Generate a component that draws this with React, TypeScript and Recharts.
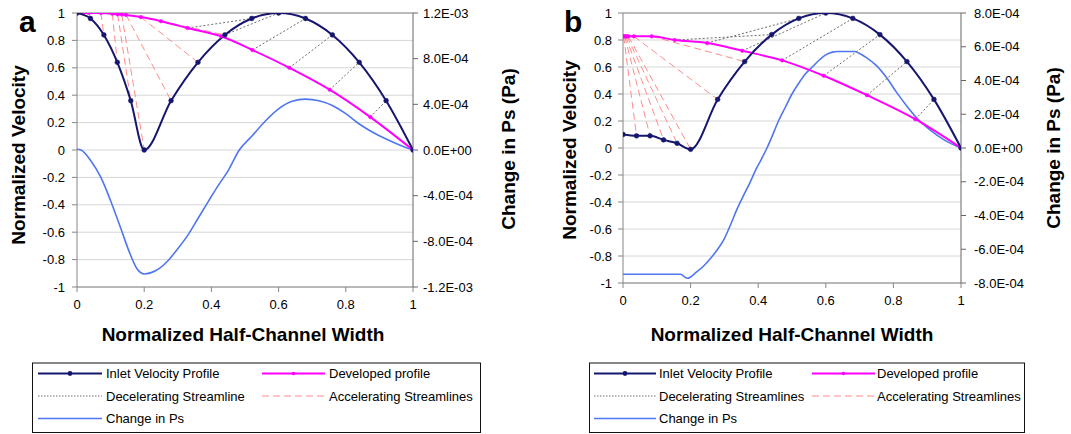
import React from 'react';
import { ComposedChart, Line, XAxis, YAxis, CartesianGrid, ReferenceLine } from 'recharts';

const xTicks = [0, 0.2, 0.4, 0.6, 0.8, 1];
const xTickLabels = ['0', '0.2', '0.4', '0.6', '0.8', '1'];
const vTicks = [-1, -0.8, -0.6, -0.4, -0.2, 0, 0.2, 0.4, 0.6, 0.8, 1];
const vTickLabels = ['-1', '-0.8', '-0.6', '-0.4', '-0.2', '0', '0.2', '0.4', '0.6', '0.8', '1'];

const psTicksA = [-1.2e-3, -8e-4, -4e-4, 0, 4e-4, 8e-4, 1.2e-3];
const psLabelsA = ['-1.2E-03', '-8.0E-04', '-4.0E-04', '0.0E+00', '4.0E-04', '8.0E-04', '1.2E-03'];
const psTicksB = [-8e-4, -6e-4, -4e-4, -2e-4, 0, 2e-4, 4e-4, 6e-4, 8e-4];
const psLabelsB = ['-8.0E-04', '-6.0E-04', '-4.0E-04', '-2.0E-04', '0.0E+00', '2.0E-04', '4.0E-04', '6.0E-04', '8.0E-04'];

// inlet sample positions (shared by both panels)
const inletX = [0, 0.04, 0.08, 0.12, 0.16, 0.2, 0.28, 0.36, 0.44, 0.52, 0.6, 0.68, 0.76, 0.84, 0.92, 1];

// Panel a
const inletVelA = [1, 0.96, 0.84, 0.64, 0.36, 0, 0.36, 0.64, 0.84, 0.96, 1, 0.96, 0.84, 0.64, 0.36, 0];
const devXA = [0, 0.035, 0.071, 0.105, 0.121, 0.133, 0.146, 0.19, 0.25, 0.329, 0.429, 0.522, 0.632, 0.752, 0.873, 1];
const devVelA = [1, 1, 1, 0.995, 0.99, 0.99, 0.986, 0.97, 0.94, 0.89, 0.83, 0.73, 0.6, 0.44, 0.24, 0];
const psXA = [0, 0.012, 0.04, 0.071, 0.1, 0.13, 0.155, 0.178, 0.2, 0.235, 0.27, 0.3, 0.333, 0.36, 0.391, 0.42, 0.45, 0.483, 0.52, 0.56, 0.6, 0.64, 0.68, 0.72, 0.76, 0.8, 0.84, 0.88, 0.92, 0.96, 1];
const psA = [6e-6, 0, -9.0e-5, -2.4e-4, -4.44e-4, -6.84e-4, -8.88e-4, -1.038e-3, -1.086e-3, -1.056e-3, -9.72e-4, -8.64e-4, -7.32e-4, -6.0e-4, -4.5e-4, -3.12e-4, -1.8e-4, 0, 1.2e-4, 2.52e-4, 3.6e-4, 4.26e-4, 4.46e-4, 4.32e-4, 3.9e-4, 3.18e-4, 2.28e-4, 1.56e-4, 9.6e-5, 4.4e-5, 0];

// Panel b
const inletVelB = [0.1, 0.09, 0.09, 0.06, 0.035, -0.01, 0.36, 0.64, 0.84, 0.96, 1, 0.96, 0.84, 0.64, 0.36, 0];
const devXB = [0, 0.002, 0.005, 0.008, 0.012, 0.016, 0.032, 0.085, 0.153, 0.249, 0.353, 0.471, 0.594, 0.722, 0.865, 1];
const devVelB = [0.827, 0.827, 0.827, 0.827, 0.827, 0.827, 0.827, 0.827, 0.8, 0.777, 0.72, 0.649, 0.535, 0.391, 0.213, 0];
const psXB = [0, 0.17, 0.19, 0.217, 0.24, 0.26, 0.28, 0.298, 0.318, 0.336, 0.355, 0.375, 0.393, 0.41, 0.426, 0.44, 0.46, 0.48, 0.5, 0.52, 0.54, 0.56, 0.58, 0.6, 0.62, 0.635, 0.685, 0.7, 0.72, 0.75, 0.78, 0.81, 0.84, 0.87, 0.91, 0.95, 1];
const psB = [-7.48e-4, -7.48e-4, -7.72e-4, -7.36e-4, -6.96e-4, -6.52e-4, -6.0e-4, -5.44e-4, -4.56e-4, -3.68e-4, -2.88e-4, -2.08e-4, -1.28e-4, -6.4e-5, 0, 6.4e-5, 1.6e-4, 2.4e-4, 3.2e-4, 3.84e-4, 4.4e-4, 4.8e-4, 5.2e-4, 5.52e-4, 5.68e-4, 5.72e-4, 5.72e-4, 5.6e-4, 5.36e-4, 4.88e-4, 4.16e-4, 3.28e-4, 2.48e-4, 1.76e-4, 1.04e-4, 4.8e-5, 0];

const NAVY = '#16166e';
const MAGENTA = '#ff00ff';
const BLUE = '#5076f0';
const RED = '#ff8c8c';
const GRAY = '#6e6e6e';
const AXIS = '#868686';
const FONT = 'Liberation Sans, Arial, sans-serif';

const pts = (xs: number[], vs: number[]) => xs.map((x, i) => ({ x, v: vs[i] }));
const labelOf = (ticks: number[], labels: string[]) => (val: number) => {
  const i = ticks.findIndex((t) => Math.abs(t - val) < 1e-9);
  return i >= 0 ? labels[i] : '';
};

type PanelProps = {
  left: number; width: number; height: number;
  margin: { top: number; right: number; bottom: number; left: number };
  inletVel: number[]; devX: number[]; devVel: number[];
  psX: number[]; ps: number[]; psTicks: number[]; psLabels: string[];
  leftTickMargin: number; rightTickMargin: number;
};

function Panel(p: PanelProps) {
  const inletData = pts(inletX, p.inletVel);
  const devData = pts(p.devX, p.devVel);
  const psData = p.psX.map((x, i) => ({ x, p: p.ps[i] }));
  const streams = inletX
    .map((x, i) => ({
      i,
      acc: p.inletVel[i] < p.devVel[i],
      data: [{ x: p.devX[i], v: p.devVel[i] }, { x, v: p.inletVel[i] }],
    }))
    .filter((s) => inletX[s.i] !== p.devX[s.i]);
  const tickStyle = { fill: '#000', fontSize: 13, fontFamily: FONT };
  return (
    <div style={{ position: 'absolute', left: p.left, top: 0 }}>
      <ComposedChart width={p.width} height={p.height} margin={p.margin}>
        <CartesianGrid horizontal vertical={false} stroke="#d6d6d6" />
        <XAxis type="number" dataKey="x" domain={[0, 1]} ticks={xTicks} interval={0}
          tickFormatter={labelOf(xTicks, xTickLabels)} height={20} tickSize={5} tickMargin={8}
          stroke={AXIS} tick={tickStyle} allowDataOverflow />
        <YAxis type="number" domain={[-1, 1]} ticks={vTicks} interval={0} width={60}
          tickFormatter={labelOf(vTicks, vTickLabels)} tickSize={5} tickMargin={p.leftTickMargin}
          stroke={AXIS} tick={tickStyle} allowDataOverflow />
        <YAxis yAxisId="right" orientation="right" type="number" domain={[p.psTicks[0], p.psTicks[p.psTicks.length - 1]]}
          ticks={p.psTicks} interval={0} width={60} tickFormatter={labelOf(p.psTicks, p.psLabels)}
          tickSize={5} tickMargin={p.rightTickMargin} stroke="#666" tick={tickStyle} allowDataOverflow />
        <ReferenceLine y={1} stroke="#8a8a8a" />
        <Line yAxisId="right" data={psData} dataKey="p" type="monotone" stroke={BLUE} strokeWidth={1.6}
          dot={false} isAnimationActive={false} />
        {streams.map((s) => (
          <Line key={'s' + s.i} data={s.data} dataKey="v" type="linear"
            stroke={s.acc ? RED : GRAY} strokeWidth={1}
            strokeDasharray={s.acc ? '7 4' : '2 2'} dot={false} isAnimationActive={false} />
        ))}
        <Line data={devData} dataKey="v" type="monotone" stroke={MAGENTA} strokeWidth={2}
          dot={{ r: 1.8, fill: MAGENTA, stroke: MAGENTA, strokeWidth: 0.5 }} isAnimationActive={false} />
        <Line data={inletData} dataKey="v" type="monotone" stroke={NAVY} strokeWidth={2}
          dot={{ r: 2.4, fill: NAVY, stroke: NAVY, strokeWidth: 0.5 }} isAnimationActive={false} />
      </ComposedChart>
    </div>
  );
}

function LegendBox(props: { x0: number; x1: number; l1a: number; l1b: number; t1: number; l2a: number; l2b: number; t2: number; decel: string }) {
  const { x0, x1, l1a, l1b, t1, l2a, l2b, t2, decel } = props;
  const rows = [373.5, 396, 418.5];
  const fs = 13;
  return (
    <g fontFamily={FONT} fontSize={fs} fill="#000">
      <rect x={x0} y={363} width={x1 - x0} height={69.5} fill="#fff" stroke="#111" strokeWidth={1} />
      <line x1={l1a} x2={l1b} y1={rows[0]} y2={rows[0]} stroke={NAVY} strokeWidth={2} />
      <circle cx={(l1a + l1b) / 2} cy={rows[0]} r={2.4} fill={NAVY} />
      <text x={t1} y={rows[0] + 4.5}>Inlet Velocity Profile</text>
      <line x1={l2a} x2={l2b} y1={rows[0]} y2={rows[0]} stroke={MAGENTA} strokeWidth={2} />
      <circle cx={(l2a + l2b) / 2} cy={rows[0]} r={1.8} fill={MAGENTA} />
      <text x={t2} y={rows[0] + 4.5}>Developed profile</text>
      <line x1={l1a} x2={l1b} y1={rows[1]} y2={rows[1]} stroke={GRAY} strokeWidth={1} strokeDasharray="1.5 1.5" />
      <text x={t1} y={rows[1] + 4.5}>{decel}</text>
      <line x1={l2a} x2={l2b} y1={rows[1]} y2={rows[1]} stroke={RED} strokeWidth={1} strokeDasharray="7 4" />
      <text x={t2} y={rows[1] + 4.5}>Accelerating Streamlines</text>
      <line x1={l1a} x2={l1b} y1={rows[2]} y2={rows[2]} stroke={BLUE} strokeWidth={1.6} />
      <text x={t1} y={rows[2] + 4.5}>Change in Ps</text>
    </g>
  );
}

export default function App() {
  return (
    <div style={{ position: 'absolute', left: 0, top: 0, width: 1071, height: 434, background: '#fff', overflow: 'hidden' }}>
      <Panel left={0} width={540} height={320}
        margin={{ top: 13, right: 67, bottom: 13, left: 17 }}
        inletVel={inletVelA} devX={devXA} devVel={devVelA}
        psX={psXA} ps={psA} psTicks={psTicksA} psLabels={psLabelsA}
        leftTickMargin={7} rightTickMargin={5} />
      <Panel left={530} width={541} height={315}
        margin={{ top: 13, right: 50, bottom: 12, left: 33 }}
        inletVel={inletVelB} devX={devXB} devVel={devVelB}
        psX={psXB} ps={psB} psTicks={psTicksB} psLabels={psLabelsB}
        leftTickMargin={6} rightTickMargin={8} />
      <svg width={1071} height={434} style={{ position: 'absolute', left: 0, top: 0, pointerEvents: 'none' }}>
        <g fontFamily={FONT} fontWeight="bold" fill="#000">
          <text x={19} y={32} fontSize={30}>a</text>
          <text x={564} y={32} fontSize={30}>b</text>
          <text fontSize={19} textAnchor="middle" transform="translate(25,155) rotate(-90)">Normalized Velocity</text>
          <text fontSize={19} textAnchor="middle" transform="translate(515,149) rotate(-90)">Change in Ps (Pa)</text>
          <text fontSize={19} textAnchor="middle" x={243} y={341}>Normalized Half-Channel Width</text>
          <text fontSize={19} textAnchor="middle" transform="translate(576,150) rotate(-90)">Normalized Velocity</text>
          <text fontSize={19} textAnchor="middle" transform="translate(1060,148) rotate(-90)">Change in Ps (Pa)</text>
          <text fontSize={19} textAnchor="middle" x={792} y={341}>Normalized Half-Channel Width</text>
        </g>
        <LegendBox x0={32.5} x1={480.5} l1a={38} l1b={102} t1={106} l2a={262} l2b={325} t2={329} decel="Decelerating Streamline" />
        <LegendBox x0={589.5} x1={1024.5} l1a={594} l1b={656} t1={659} l2a={812} l2b={875} t2={877} decel="Decelerating Streamlines" />
      </svg>
    </div>
  );
}
